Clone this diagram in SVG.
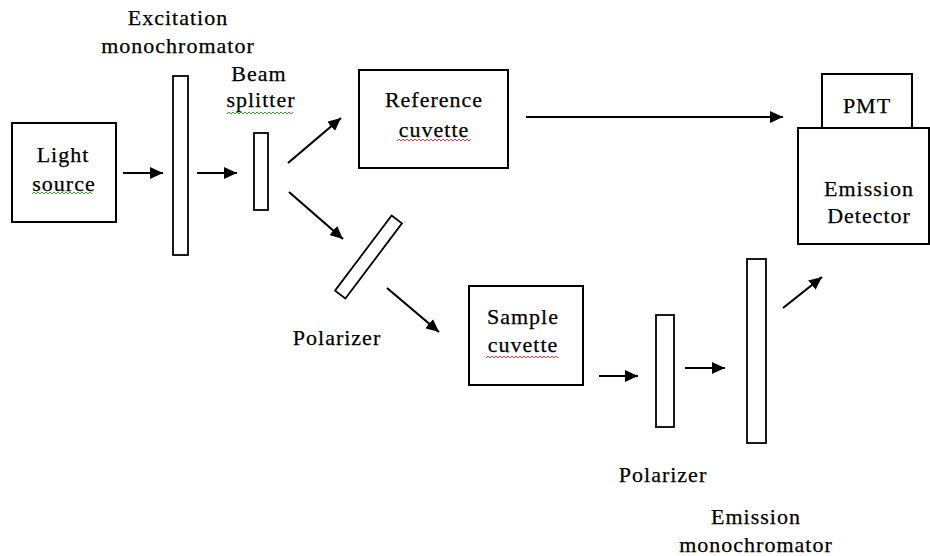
<svg xmlns="http://www.w3.org/2000/svg" width="930" height="556" viewBox="0 0 930 556">
<defs>
<style>
.box{fill:#fff;stroke:#000;stroke-width:2}
.bar{fill:#fff;stroke:#000;stroke-width:1.8}
text{font-family:'Liberation Serif','DejaVu Serif',serif;font-size:22px;letter-spacing:1px;fill:#000;stroke:#000;stroke-width:0.25;text-anchor:middle}
.arr{stroke:#000;stroke-width:2.2;fill:none;marker-end:url(#ah)}
.sqg{fill:none;stroke:#3a9a3a;stroke-width:1}
.sqr{fill:none;stroke:#e04040;stroke-width:1}
</style>
<marker id="ah" markerUnits="userSpaceOnUse" markerWidth="14" markerHeight="12" refX="13" refY="6" orient="auto">
<path d="M0,0 L13,6 L0,12 Z" fill="#000"/>
</marker>
</defs>
<rect width="930" height="556" fill="#fff"/>

<g id="light-source">
<rect class="box" x="12" y="123" width="104" height="99"/>
<text x="63" y="162">Light</text>
<text x="64" y="191">source</text>
<path class="sqg" d="M32,194 l2,-2 l2,2 l2,-2 l2,2 l2,-2 l2,2 l2,-2 l2,2 l2,-2 l2,2 l2,-2 l2,2 l2,-2 l2,2 l2,-2 l2,2 l2,-2 l2,2 l2,-2 l2,2 l2,-2 l2,2 l2,-2 l2,2 l2,-2 l2,2 l2,-2 l2,2 l2,-2 l2,2"/>
</g>

<g id="excitation-monochromator">
<rect class="bar" x="173" y="76" width="15" height="179"/>
<text x="178" y="25">Excitation</text>
<text x="178" y="53">monochromator</text>
</g>

<g id="beam-splitter">
<rect class="bar" x="254" y="133" width="14" height="77"/>
<text x="259" y="81">Beam</text>
<text x="261" y="107">splitter</text>
<path class="sqg" d="M227,114 l2,-2 l2,2 l2,-2 l2,2 l2,-2 l2,2 l2,-2 l2,2 l2,-2 l2,2 l2,-2 l2,2 l2,-2 l2,2 l2,-2 l2,2 l2,-2 l2,2 l2,-2 l2,2 l2,-2 l2,2 l2,-2 l2,2 l2,-2 l2,2 l2,-2 l2,2 l2,-2 l2,2 l2,-2 l2,2 l2,-2"/>
</g>

<g id="reference-cuvette">
<rect class="box" x="359" y="70" width="149" height="98"/>
<text x="434" y="107">Reference</text>
<text x="434" y="137">cuvette</text>
<path class="sqr" d="M397,141 l2,-2 l2,2 l2,-2 l2,2 l2,-2 l2,2 l2,-2 l2,2 l2,-2 l2,2 l2,-2 l2,2 l2,-2 l2,2 l2,-2 l2,2 l2,-2 l2,2 l2,-2 l2,2 l2,-2 l2,2 l2,-2 l2,2 l2,-2 l2,2 l2,-2 l2,2 l2,-2 l2,2 l2,-2 l2,2 l2,-2 l2,2 l2,-2 l2,2 l2,-2"/>
</g>

<g id="polarizer-1">
<rect class="bar" x="362" y="210" width="13" height="94" transform="rotate(37 368.5 257)"/>
<text x="337" y="345">Polarizer</text>
</g>

<g id="sample-cuvette">
<rect class="box" x="469" y="286" width="114" height="99"/>
<text x="523" y="324">Sample</text>
<text x="523" y="352">cuvette</text>
<path class="sqr" d="M486,358 l2,-2 l2,2 l2,-2 l2,2 l2,-2 l2,2 l2,-2 l2,2 l2,-2 l2,2 l2,-2 l2,2 l2,-2 l2,2 l2,-2 l2,2 l2,-2 l2,2 l2,-2 l2,2 l2,-2 l2,2 l2,-2 l2,2 l2,-2 l2,2 l2,-2 l2,2 l2,-2 l2,2 l2,-2 l2,2 l2,-2 l2,2 l2,-2 l2,2"/>
</g>

<g id="polarizer-2">
<rect class="bar" x="656" y="315" width="18" height="112"/>
<text x="663" y="482">Polarizer</text>
</g>

<g id="emission-monochromator">
<rect class="bar" x="747" y="259" width="19" height="184"/>
<text x="756" y="524">Emission</text>
<text x="756" y="552">monochromator</text>
</g>

<g id="emission-detector">
<rect class="box" x="822" y="74" width="90" height="54"/>
<text x="867" y="113">PMT</text>
<rect class="box" x="798" y="128" width="131" height="116"/>
<text x="869" y="196">Emission</text>
<text x="869" y="223">Detector</text>
</g>

<g id="connectors">
<line class="arr" x1="123" y1="173" x2="163" y2="173"/>
<line class="arr" x1="197" y1="173" x2="237" y2="173"/>
<line class="arr" x1="288" y1="163" x2="341" y2="118"/>
<line class="arr" x1="289" y1="192" x2="343" y2="239"/>
<line class="arr" x1="526" y1="117" x2="783" y2="117"/>
<line class="arr" x1="387" y1="288" x2="439" y2="332"/>
<line class="arr" x1="599" y1="376" x2="638" y2="376"/>
<line class="arr" x1="685" y1="368" x2="725" y2="368"/>
<line class="arr" x1="783" y1="308" x2="822" y2="277"/>
</g>
</svg>
